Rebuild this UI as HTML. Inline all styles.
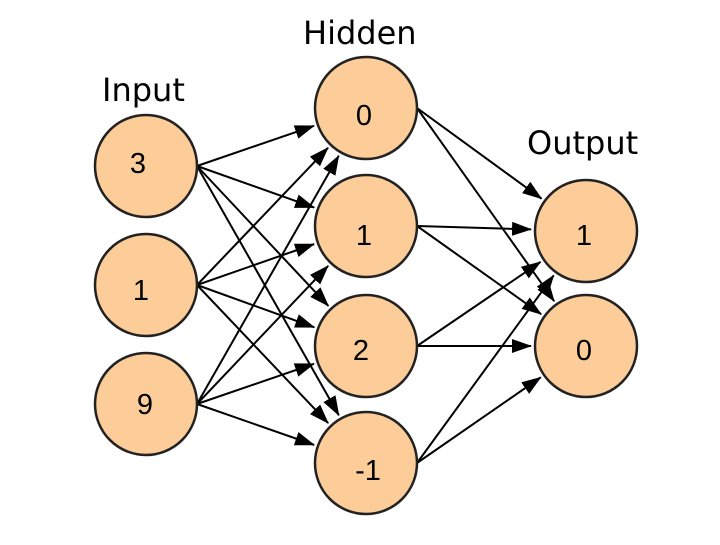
<!DOCTYPE html>
<html><head><meta charset="utf-8"><style>
body{margin:0;background:#fff}
.t{font-family:"DejaVu Sans","Liberation Sans",sans-serif}
.n{font-family:"Liberation Sans",sans-serif}
</style></head><body>
<svg width="720" height="540" viewBox="0 0 720 540" xmlns="http://www.w3.org/2000/svg">
<defs><marker id="b" markerWidth="20" markerHeight="14" refX="19" refY="7" orient="auto" markerUnits="userSpaceOnUse" viewBox="0 0 20 14"><path d="M0,0 L20,7 L0,14 z" fill="#000"/></marker></defs>
<g id="lines" stroke="#000" stroke-width="2" fill="none"></g>
<g fill="#fccc99" stroke="#222" stroke-width="2.5">
<circle cx="146" cy="166" r="51"/><circle cx="146" cy="285" r="51"/><circle cx="146" cy="404" r="51"/>
<circle cx="366" cy="108" r="51"/><circle cx="366" cy="226" r="51"/><circle cx="366" cy="346" r="51"/><circle cx="366" cy="463" r="51"/>
<circle cx="586" cy="231" r="51"/><circle cx="586" cy="346" r="51"/>
</g>
<g class="n" font-size="29" fill="#000" text-anchor="middle">
<text x="138" y="173">3</text><text x="141" y="300">1</text><text x="145" y="414">9</text>
<text x="364" y="125">0</text><text x="364" y="245">1</text><text x="361" y="360">2</text><text x="368" y="480">-1</text>
<text x="584" y="245">1</text><text x="584" y="360">0</text>
</g>
<g class="t" font-size="32" fill="#000">
<text x="102" y="101">Input</text><text x="303" y="44">Hidden</text><text x="527" y="154">Output</text>
</g>
</svg>
<script>
var g=document.getElementById('lines'),ns='http://www.w3.org/2000/svg';
var I=[[197,166],[197,285],[197,404]],H=[108,226,346,463],O=[231,346];
function L(x1,y1,cx,cy,r){var dx=cx-x1,dy=cy-y1,d=Math.hypot(dx,dy),t=(d-r-4)/d;
var l=document.createElementNS(ns,'line');l.setAttribute('x1',x1);l.setAttribute('y1',y1);
l.setAttribute('x2',x1+dx*t);l.setAttribute('y2',y1+dy*t);l.setAttribute('marker-end','url(#b)');g.appendChild(l);}
I.forEach(function(p){H.forEach(function(h){L(p[0],p[1],366,h,51);});});
H.forEach(function(h){O.forEach(function(o){L(417,h,586,o,51);});});
</script>
</body></html>
